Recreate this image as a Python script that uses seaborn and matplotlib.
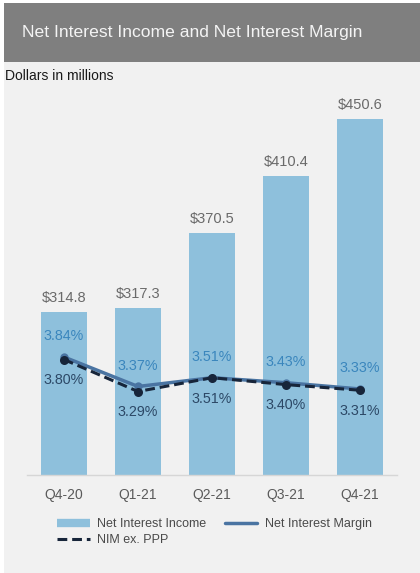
import numpy as np
import pandas as pd
import matplotlib
matplotlib.use("Agg")
import matplotlib.pyplot as plt
from matplotlib.patches import Rectangle
from matplotlib.lines import Line2D
import seaborn as sns

quarters = ["Q4-20", "Q1-21", "Q2-21", "Q3-21", "Q4-21"]
net_interest_income = [314.8, 317.3, 370.5, 410.4, 450.6]
nim = [3.84, 3.37, 3.51, 3.43, 3.33]
nim_ex_ppp = [3.80, 3.29, 3.51, 3.40, 3.31]

BAR_COLOR = "#8ec0dc"
NIM_COLOR = "#4a74a2"
PPP_COLOR = "#17253a"
NIM_TEXT = "#3a86bd"
PPP_TEXT = "#2c4866"
BG = "#f1f1f1"

sns.set_theme(style="white")
plt.rcParams["font.family"] = ["Liberation Sans", "DejaVu Sans"]

fig = plt.figure(figsize=(4.2, 5.73), dpi=100, facecolor="white")

# panel background and title bar
fig.patches.append(Rectangle((4 / 420, 0), 1, 1 - 3 / 573, transform=fig.transFigure,
                             facecolor=BG, edgecolor="none", zorder=-2))
fig.patches.append(Rectangle((4 / 420, 1 - 62 / 573), 1, 59 / 573, transform=fig.transFigure,
                             facecolor="#7f7f7f", edgecolor="none", zorder=-1))
fig.text(22 / 420, 1 - 33 / 573, "Net Interest Income and Net Interest Margin",
         color="#f4f4f4", fontsize=12.6, va="center", ha="left")
fig.text(5 / 420, 1 - 76 / 573, "Dollars in millions", color="#1a1a1a",
         fontsize=10, va="center", ha="left")

ax = fig.add_axes([27 / 420, 1 - 475 / 573, 370 / 420, 380 / 573])
ax.set_facecolor("none")

df = pd.DataFrame({"quarter": quarters, "nii": net_interest_income})
sns.barplot(data=df, x="quarter", y="nii", color=BAR_COLOR, saturation=1,
            width=0.62, ax=ax, zorder=1, edgecolor="none", linewidth=0)
ax.set_ylim(200, 467.4)
ax.set_xlim(-0.5, len(quarters) - 0.5)
for i, v in enumerate(net_interest_income):
    ax.annotate(f"${v:.1f}", (i, v), xytext=(0, 5), textcoords="offset points",
                ha="center", va="bottom", fontsize=10.5, color="#6a6a6a")

ax.set_xlabel("")
ax.set_ylabel("")
ax.set_yticks([])
ax.tick_params(axis="x", length=0, pad=9, labelsize=10, labelcolor="#5a5a5a")
for s in ["top", "left", "right"]:
    ax.spines[s].set_visible(False)
ax.spines["bottom"].set_color("#d6d6d6")
ax.spines["bottom"].set_linewidth(1)

ax2 = ax.twinx()
pos = np.arange(len(quarters))
sns.lineplot(x=pos, y=nim, ax=ax2, color=NIM_COLOR, linewidth=2.5,
             marker="o", markersize=6, markeredgewidth=0, zorder=3)
sns.lineplot(x=pos, y=nim_ex_ppp, ax=ax2, color=PPP_COLOR, linewidth=2.2,
             linestyle=(0, (3.2, 1.6)), marker="o", markersize=6.5,
             markeredgewidth=0, zorder=4)
ax2.set_ylim(1.958, 8.02)
ax2.set_yticks([])
ax2.set_ylabel("")
for s in ["top", "left", "right", "bottom"]:
    ax2.spines[s].set_visible(False)

for i, (a, b) in enumerate(zip(nim, nim_ex_ppp)):
    ax2.annotate(f"{a:.2f}%", (i, a), xytext=(0, 10), textcoords="offset points",
                 ha="center", va="bottom", fontsize=10.3, color=NIM_TEXT)
    ax2.annotate(f"{b:.2f}%", (i, b), xytext=(0, -10), textcoords="offset points",
                 ha="center", va="top", fontsize=10.3, color=PPP_TEXT)

handles = [
    Line2D([], [], color=BAR_COLOR, linewidth=6, solid_capstyle="butt"),
    Line2D([], [], color=PPP_COLOR, linewidth=2.2, linestyle=(0, (3.2, 1.6))),
    Line2D([], [], color=NIM_COLOR, linewidth=2.5),
]
labels = ["Net Interest Income", "NIM ex. PPP", "Net Interest Margin"]
fig.legend(handles, labels, loc="upper left", bbox_to_anchor=(57 / 420, 1 - 518 / 573),
           ncol=2, frameon=False, fontsize=9, handlelength=2.6, handletextpad=0.6,
           columnspacing=1.5, labelspacing=0.35, borderpad=0, borderaxespad=0,
           labelcolor="#4a4a4a")

fig.savefig("out.png", dpi=100, facecolor="white")
